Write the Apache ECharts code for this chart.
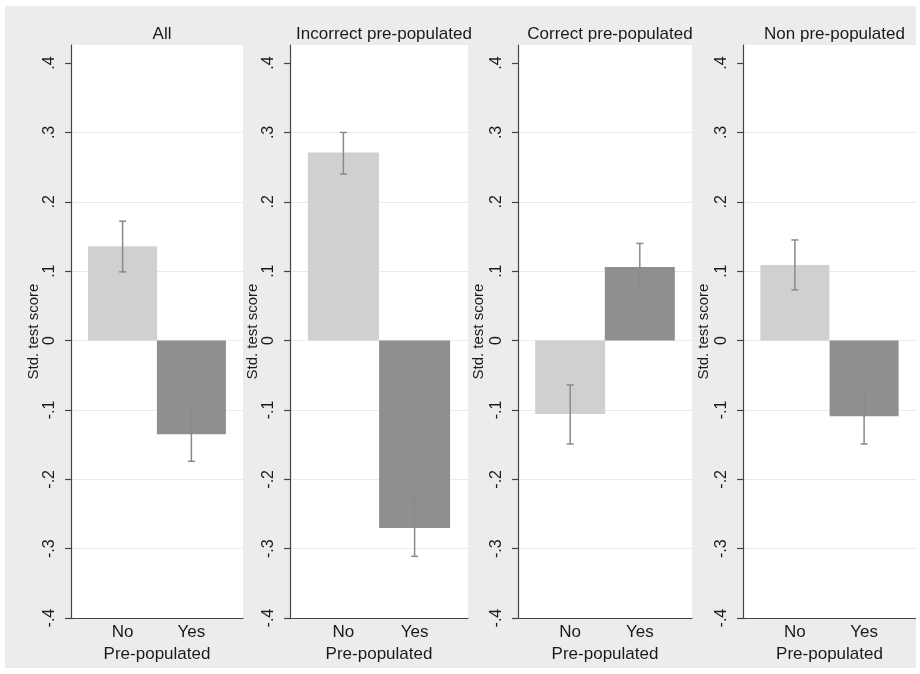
<!DOCTYPE html>
<html>
<head>
<meta charset="utf-8">
<script src="https://cdn.jsdelivr.net/npm/echarts@6/dist/echarts.min.js"></script>
<style>
html,body{margin:0;padding:0;background:#fff;}
#wrap{position:relative;width:920px;height:674px;background:#fff;}
#chart{position:absolute;left:5px;top:6px;width:911px;height:662px;}
</style>
</head>
<body>
<div id="wrap"><div id="chart"></div></div>
<script>
// ---- data ----
const panelTitles = ['All', 'Incorrect pre-populated', 'Correct pre-populated', 'Non pre-populated'];
const categories = ['No', 'Yes'];
const categoryX = [0.3, 0.7];
const meanNo  = [0.136, 0.271, -0.106, 0.109];
const meanYes = [-0.135, -0.270, 0.106, -0.109];
const ciLowNo  = [0.099, 0.240, -0.149, 0.073];
const ciHighNo = [0.172, 0.300, -0.064, 0.145];
const ciLowYes  = [-0.174, -0.311, 0.072, -0.149];
const ciHighYes = [-0.097, -0.227, 0.140, -0.070];
const yTickValues = [-0.4, -0.3, -0.2, -0.1, 0, 0.1, 0.2, 0.3, 0.4];
const yAxisTitle = 'Std. test score';
const xAxisTitle = 'Pre-populated';

// ---- layout (page coords, offset by chart div position) ----
const OX = 5, OY = 6;
const plotLeft  = [71, 290, 518, 743];
const plotRight = [243, 468, 692, 916];
const plotTop = 45, plotBottom = 621;
const yNameGap = [30, 21, 32, 32];
const colorNo = '#d0d0d0', colorYes = '#8f8f8f';
const errColor = '#8a8a8a';
const FONT = 'Liberation Sans, Arial, Helvetica, sans-serif';

function fmtY(v) {
  const r = Math.round(v * 10) / 10;
  if (r === 0) return '0';
  return (r < 0 ? '-' : '') + String(Math.abs(r)).replace(/^0/, '');
}

const grids = [], xAxes = [], yAxes = [], series = [], titles = [];
for (let i = 0; i < 4; i++) {
  const w = plotRight[i] - plotLeft[i];
  grids.push({
    left: plotLeft[i] - OX, top: plotTop - OY, width: w, height: plotBottom - plotTop,
    show: true, backgroundColor: '#ffffff', borderWidth: 0
  });
  titles.push({
    text: panelTitles[i],
    left: (plotLeft[i] + plotRight[i]) / 2 - OX,
    top: 21 - OY,
    textAlign: 'center',
    textStyle: { fontFamily: FONT, fontSize: 17, fontWeight: 'normal', color: '#1a1a1a' }
  });
  xAxes.push({
    gridIndex: i, type: 'value', min: 0, max: 1,
    axisLine: { show: true, onZero: false, lineStyle: { color: '#444', width: 1.2 } },
    axisTick: { show: false },
    splitLine: { show: false },
    axisLabel: {
      customValues: categoryX,
      formatter: v => { const k = categoryX.findIndex(c => Math.abs(c - v) < 1e-6); return k >= 0 ? categories[k] : ''; },
      fontFamily: FONT, fontSize: 17, color: '#1a1a1a', margin: 6
    },
    name: xAxisTitle, nameLocation: 'middle', nameGap: 23,
    nameTextStyle: { fontFamily: FONT, fontSize: 17, color: '#1a1a1a' }
  });
  yAxes.push({
    gridIndex: i, type: 'value', min: -0.4, max: 0.426, interval: 0.1,
    axisLine: { show: true, onZero: false, lineStyle: { color: '#444', width: 1.2 } },
    axisTick: { show: true, customValues: yTickValues, length: 6, lineStyle: { color: '#444', width: 1.2 } },
    axisLabel: {
      customValues: yTickValues, formatter: fmtY, rotate: 90, margin: 13,
      fontFamily: FONT, fontSize: 16, color: '#1a1a1a'
    },
    splitLine: { show: true, showMinLine: false, showMaxLine: false, lineStyle: { color: '#ebebeb', width: 1 } },
    name: yAxisTitle, nameLocation: 'middle', nameRotate: 90, nameGap: yNameGap[i],
    nameTextStyle: { fontFamily: FONT, fontSize: 15, color: '#1a1a1a' }
  });
  series.push({
    type: 'bar', xAxisIndex: i, yAxisIndex: i,
    barWidth: Math.round(0.4 * w),
    data: [
      { value: [categoryX[0], meanNo[i]], itemStyle: { color: colorNo } },
      { value: [categoryX[1], meanYes[i]], itemStyle: { color: colorYes } }
    ],
    silent: true, animation: false
  });
  series.push({
    type: 'custom', xAxisIndex: i, yAxisIndex: i, z: 5,
    data: [
      [categoryX[0], ciLowNo[i], ciHighNo[i]],
      [categoryX[1], ciLowYes[i], ciHighYes[i]]
    ],
    encode: { x: 0, y: [1, 2] },
    renderItem: function (params, api) {
      const x = api.value(0);
      const lo = api.coord([x, api.value(1)]);
      const hi = api.coord([x, api.value(2)]);
      const cap = 3.5;
      const st = { stroke: errColor, lineWidth: 1.5 };
      return {
        type: 'group',
        children: [
          { type: 'line', shape: { x1: lo[0], y1: lo[1], x2: hi[0], y2: hi[1] }, style: st },
          { type: 'line', shape: { x1: lo[0] - cap, y1: lo[1], x2: lo[0] + cap, y2: lo[1] }, style: st },
          { type: 'line', shape: { x1: hi[0] - cap, y1: hi[1], x2: hi[0] + cap, y2: hi[1] }, style: st }
        ]
      };
    },
    silent: true, animation: false
  });
}

const chart = echarts.init(document.getElementById('chart'));
chart.setOption({
  backgroundColor: '#ececec',
  animation: false,
  title: titles,
  grid: grids,
  xAxis: xAxes,
  yAxis: yAxes,
  series: series
});
</script>
</body>
</html>
